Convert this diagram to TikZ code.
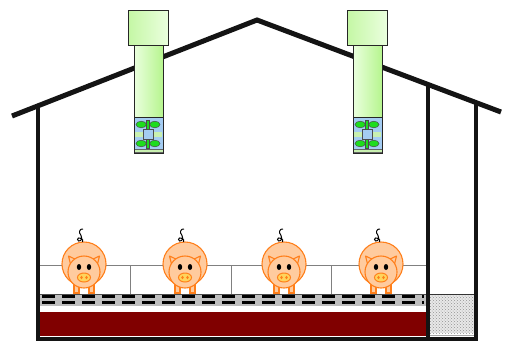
\documentclass[tikz,border=0pt]{standalone}
\usetikzlibrary{patterns}
\definecolor{pigfill}{HTML}{FFCB9E}
\definecolor{pigline}{HTML}{FF7F1A}
\definecolor{snoutfill}{HTML}{FFD45C}
\definecolor{manure}{HTML}{800000}
\definecolor{fanblue}{HTML}{A4CCF2}
\definecolor{propgreen}{HTML}{1EDC1E}
\definecolor{ductpale}{HTML}{EAFFDE}
\definecolor{ductgreen}{HTML}{B6F58E}
\definecolor{barpale}{HTML}{C8F0B0}
\definecolor{railgray}{HTML}{808080}
\definecolor{slatgray}{HTML}{BEBEBE}

\tikzset{
  wall/.style={line width=4.3pt, black!92},
  roofline/.style={line width=5pt, black!92},
  rail/.style={railgray, line width=0.8pt},
  outline/.style={draw=black!85, line width=0.9pt},
  prop/.style={fill=propgreen, draw=black!70, line width=0.5pt},
  pigpart/.style={fill=pigfill, draw=pigline, line width=1.1pt},
  % exhaust duct: cap, shaft and fan unit; origin = left edge of the cap
  exhaust/.pic={
    \shade[left color=ductgreen!80, right color=ductpale] (0,10) rectangle (40,45);
    \draw[outline] (0,10) rectangle (40,45);
    \shade[left color=ductpale, right color=ductgreen] (6,45) rectangle (35,117);
    \draw[outline] (6,45) rectangle (35,117);
    \fill[fanblue] (6,117) rectangle (35,153);
    \fill[barpale, draw=black!60, line width=0.4pt] (6,149.5) rectangle (35,152.5);
    \fill[barpale] (7,131.5) rectangle (15,136.5);
    \fill[barpale] (25,131.5) rectangle (34,136.5);
    \draw[fill=fanblue, draw=black!70, line width=0.5pt] (15,129) rectangle (25,139);
    \foreach \py in {124.5,143.5}{
      \draw[prop] (13.2,\py) ellipse [x radius=5.2, y radius=3.3];
      \draw[prop] (26.8,\py) ellipse [x radius=5.2, y radius=3.3];
      \draw[prop] (18.6,\py-4.5) rectangle (21.4,\py+4.5);
    }
    \draw[outline] (6,117) rectangle (35,153);
  },
  % pig seen from behind the pen rail; origin = centre of the body
  pig/.pic={
    \draw[pigpart] (-10,17) rectangle (-5,29);
    \draw[pigpart] (5,17) rectangle (10,29);
    \draw[pigpart] (0,0) circle [radius=22];
    \draw[pigpart, line join=round] (-13,2) -- (-15.5,-8) -- (-7,-4) -- cycle;
    \draw[pigpart, line join=round] (13,2) -- (15.5,-8) -- (7,-4) -- cycle;
    \draw[pigpart] (0,8) circle [radius=16];
    \fill[black] (-5,3) ellipse [x radius=2.2, y radius=3];
    \fill[black] (5,3) ellipse [x radius=2.2, y radius=3];
    \draw[fill=snoutfill, draw=pigline, line width=1pt] (0,13.5) ellipse [x radius=6.5, y radius=4.5];
    \fill[pigline] (-2.5,13.5) ellipse [x radius=1.3, y radius=1.8];
    \fill[pigline] (2.5,13.5) ellipse [x radius=1.3, y radius=1.8];
    \draw[black, line width=1pt] (-1.5,-22) .. controls (1,-25) and (-7,-28) .. (-6.5,-24.5)
      .. controls (-6,-21) and (0,-24) .. (-3,-28.5)
      .. controls (-6,-32) and (-4,-35.5) .. (-1,-35);
  }
}

\begin{document}
\begin{tikzpicture}[x=1pt, y=-1pt]
\useasboundingbox (0,0) rectangle (505,341);

% pen rail and posts
\draw[rail] (38,265) -- (428,265);
\foreach \px in {130,231,331} \draw[rail] (\px,265) -- (\px,294);

% slatted floor and manure pit
\fill[slatgray] (40,294) rectangle (426,306);
\draw[black!70, line width=0.9pt] (38,294) -- (428,294);
\draw[black, line width=2.6pt, dash pattern=on 13pt off 7pt] (42,296.5) -- (424,296.5);
\draw[black, line width=2.6pt, dash pattern=on 13pt off 7pt] (42,302.5) -- (424,302.5);
\fill[manure] (40,312) rectangle (426,336);

% storage pit beside the house
\fill[gray!18] (430,295) rectangle (474,333);
\fill[pattern=crosshatch dots, pattern color=gray!85] (430,295) rectangle (474,333);
\draw[black!80, line width=1pt] (428,294) -- (476,294);
\draw[gray!70, line width=0.7pt] (430,335) -- (474,335);

% pigs
\foreach \px in {84,185,284,381} \pic at (\px,264) {pig};

% walls and roof
\draw[wall] (38,105) -- (38,339) -- (476,339) -- (476,103);
\draw[wall] (428,85) -- (428,339);
\draw[roofline] (12,116) -- (257,20) -- (501,112);

% exhaust ducts through the roof
\pic at (128,0) {exhaust};
\pic at (347,0) {exhaust};
\end{tikzpicture}
\end{document}
